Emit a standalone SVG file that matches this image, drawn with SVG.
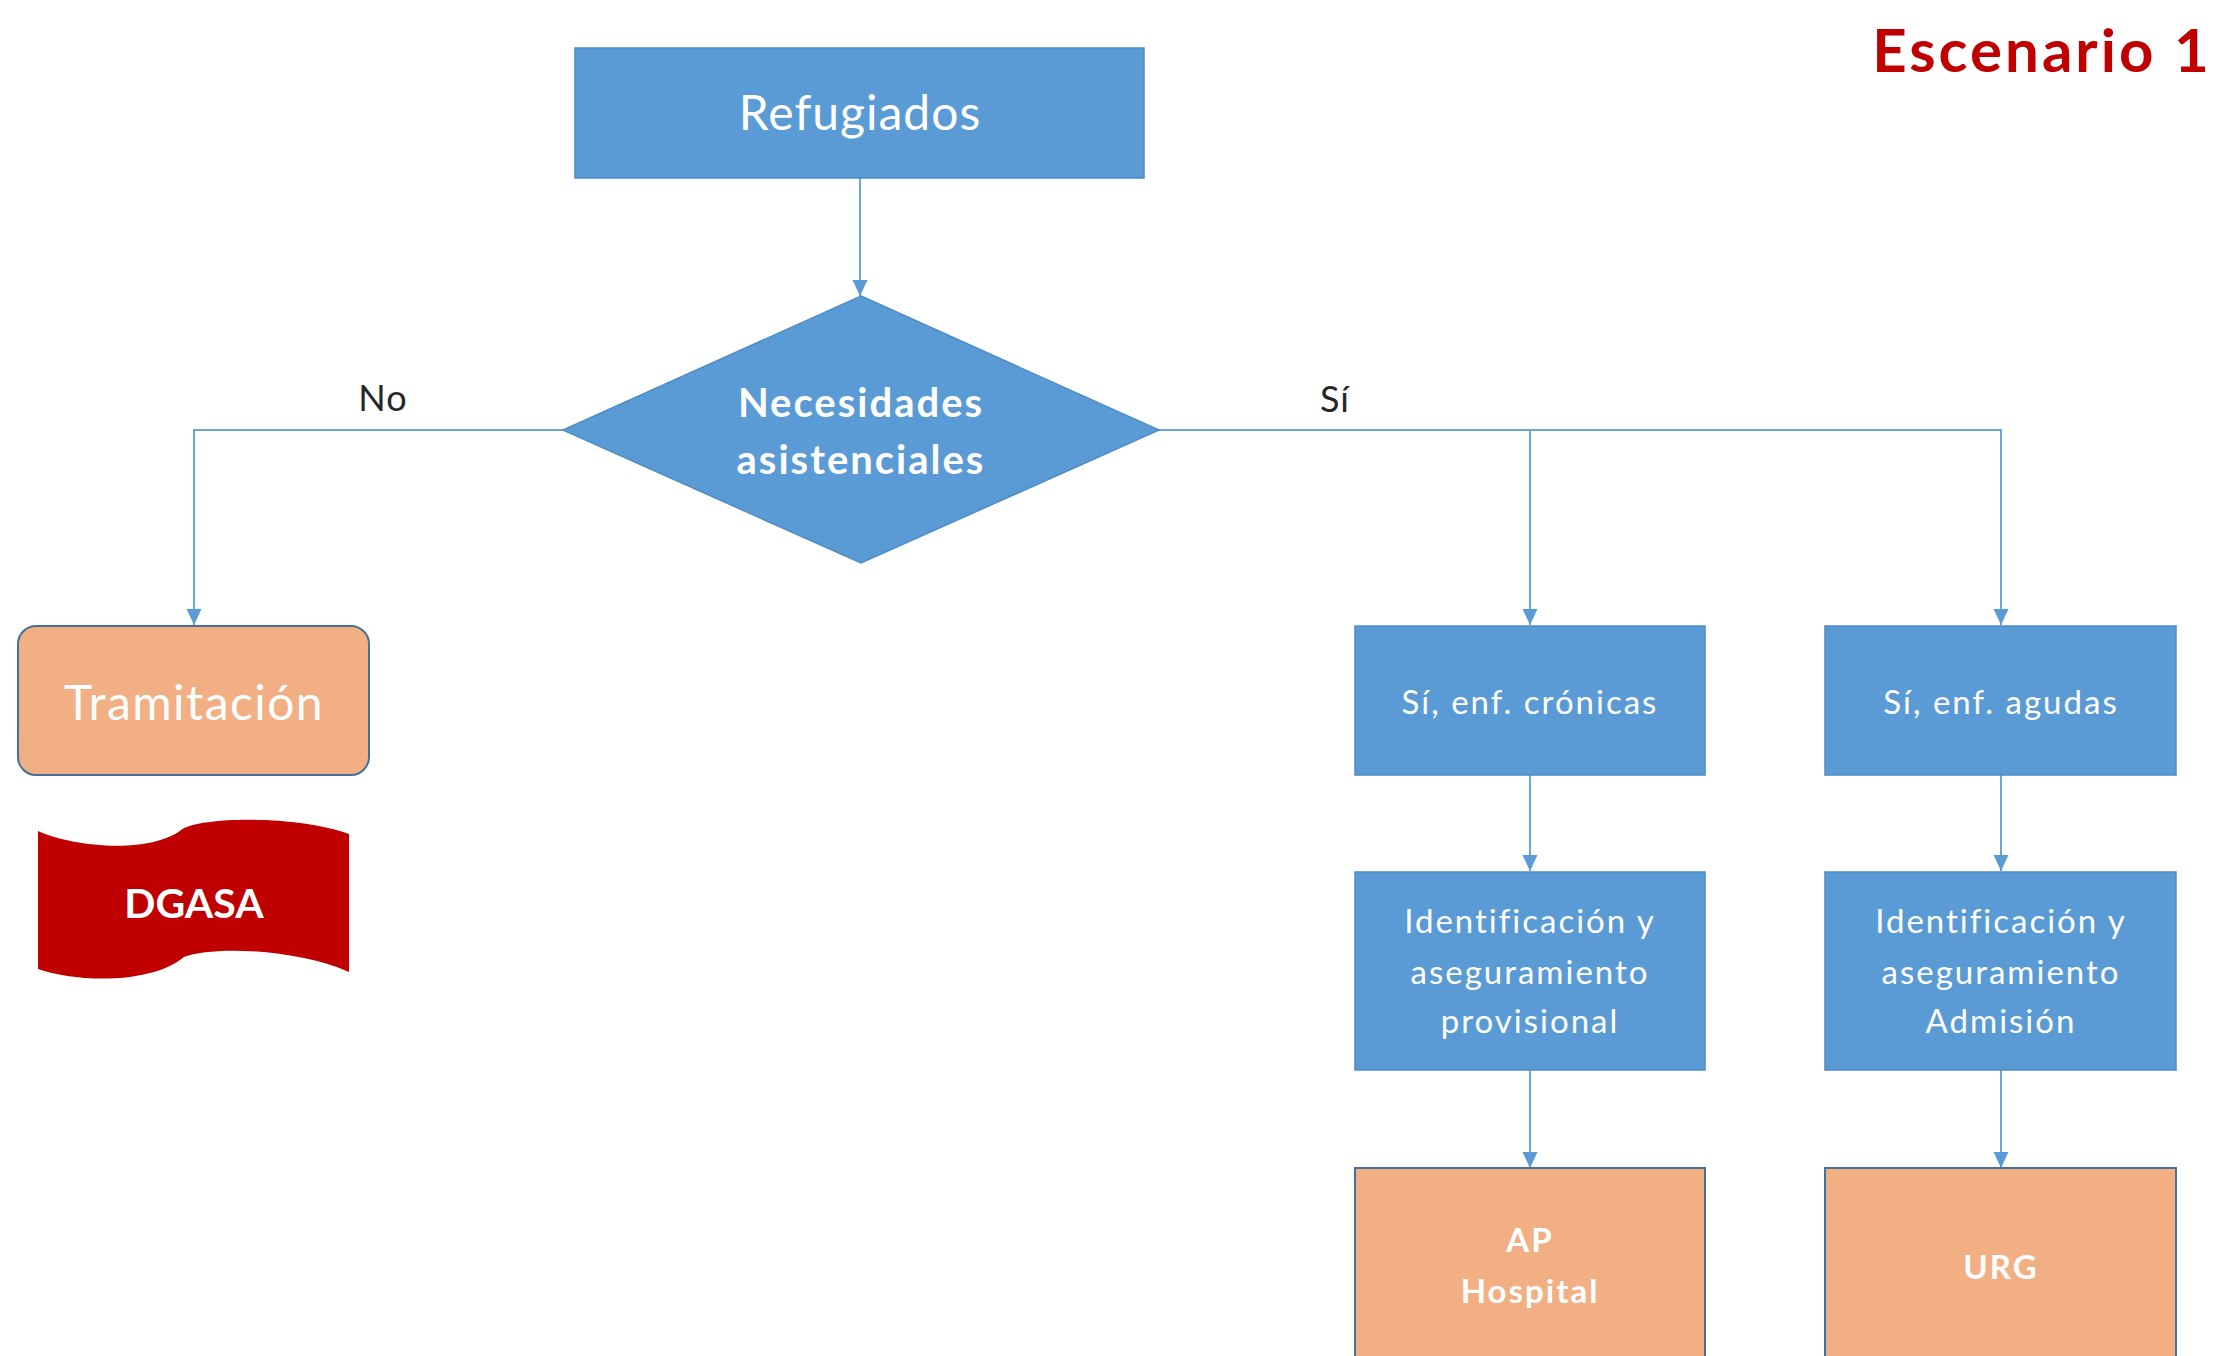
<svg xmlns="http://www.w3.org/2000/svg" width="2217" height="1356" viewBox="0 0 2217 1356">
<style>
.bg{fill:#ffffff}
.blue{fill:#5b9bd5;stroke:#4f8cc4;stroke-width:1.5}
.orange{fill:#f2af83;stroke:#41719c;stroke-width:2}
.conn{fill:none;stroke:#6ba6dc;stroke-width:2}
.t{font-family:Lato,"Open Sans","Liberation Sans",sans-serif;fill:#ffffff;text-anchor:middle}
.s{font-size:33px;letter-spacing:2px}
.b{font-weight:bold}
.lbl{font-family:Lato,"Open Sans","Liberation Sans",sans-serif;fill:#262626;text-anchor:middle;font-size:36px;letter-spacing:1px}
</style>
<defs>
<marker id="arr" markerUnits="userSpaceOnUse" markerWidth="18" markerHeight="18" viewBox="0 0 18 18" refX="16" refY="9" orient="auto">
<path d="M0,1.5 L16,9 L0,16.5 Z" fill="#5b9bd5"/>
</marker>
</defs>
<rect class="bg" x="0" y="0" width="2217" height="1356"/>

<g id="connectors">
<path class="conn" d="M860,178 L860,296" marker-end="url(#arr)"/>
<path class="conn" d="M563,430 L194,430 L194,625" marker-end="url(#arr)"/>
<path class="conn" d="M1159,430 L2001,430 L2001,625" marker-end="url(#arr)"/>
<path class="conn" d="M1530,430 L1530,625" marker-end="url(#arr)"/>
<path class="conn" d="M1530,775 L1530,871" marker-end="url(#arr)"/>
<path class="conn" d="M2001,775 L2001,871" marker-end="url(#arr)"/>
<path class="conn" d="M1530,1070 L1530,1168" marker-end="url(#arr)"/>
<path class="conn" d="M2001,1070 L2001,1168" marker-end="url(#arr)"/>
<text class="lbl" x="383" y="411">No</text>
<text class="lbl" x="1335" y="412">Sí</text>
</g>

<g id="title">
<text x="2042" y="72" font-family="Lato,'Open Sans','Liberation Sans',sans-serif" font-weight="bold" font-size="60" letter-spacing="3" fill="#c00000" text-anchor="middle">Escenario 1</text>
</g>

<g id="refugiados">
<rect class="blue" x="575" y="48" width="569" height="130"/>
<text class="t" x="860" y="130" font-size="48" letter-spacing="1">Refugiados</text>
</g>

<g id="necesidades">
<polygon class="blue" points="861,296 1159,430 861,563 563,430"/>
<text class="t b" x="861" y="417" font-size="40" letter-spacing="2">Necesidades</text>
<text class="t b" x="861" y="474" font-size="40" letter-spacing="2">asistenciales</text>
</g>

<g id="tramitacion">
<rect class="orange" x="18" y="626" width="351" height="149" rx="18" ry="18"/>
<text class="t" x="194" y="720" font-size="48" letter-spacing="1.4">Tramitación</text>
</g>

<g id="dgasa">
<path d="M38,831 C70,846 150,856 184,828 C210,816 300,816 349,834 L349,972 C300,950 215,945 184,957 C150,985 75,982 38,969 Z" fill="#c00000"/>
<text class="t b" x="194" y="918" font-size="41">DGASA</text>
</g>

<g id="cronicas">
<rect class="blue" x="1355" y="626" width="350" height="149"/>
<text class="t s" x="1530" y="714">Sí, enf. crónicas</text>
</g>

<g id="agudas">
<rect class="blue" x="1825" y="626" width="351" height="149"/>
<text class="t s" x="2001" y="714">Sí, enf. agudas</text>
</g>

<g id="ident-provisional">
<rect class="blue" x="1355" y="872" width="350" height="198"/>
<text class="t s" x="1530" y="933">Identificación y</text>
<text class="t s" x="1530" y="984">aseguramiento</text>
<text class="t s" x="1530" y="1033">provisional</text>
</g>

<g id="ident-admision">
<rect class="blue" x="1825" y="872" width="351" height="198"/>
<text class="t s" x="2001" y="933">Identificación y</text>
<text class="t s" x="2001" y="984">aseguramiento</text>
<text class="t s" x="2001" y="1033">Admisión</text>
</g>

<g id="ap-hospital">
<rect class="orange" x="1355" y="1168" width="350" height="200"/>
<text class="t s b" x="1530" y="1252">AP</text>
<text class="t s b" x="1530" y="1303">Hospital</text>
</g>

<g id="urg">
<rect class="orange" x="1825" y="1168" width="351" height="200"/>
<text class="t s b" x="2001" y="1279">URG</text>
</g>
</svg>
